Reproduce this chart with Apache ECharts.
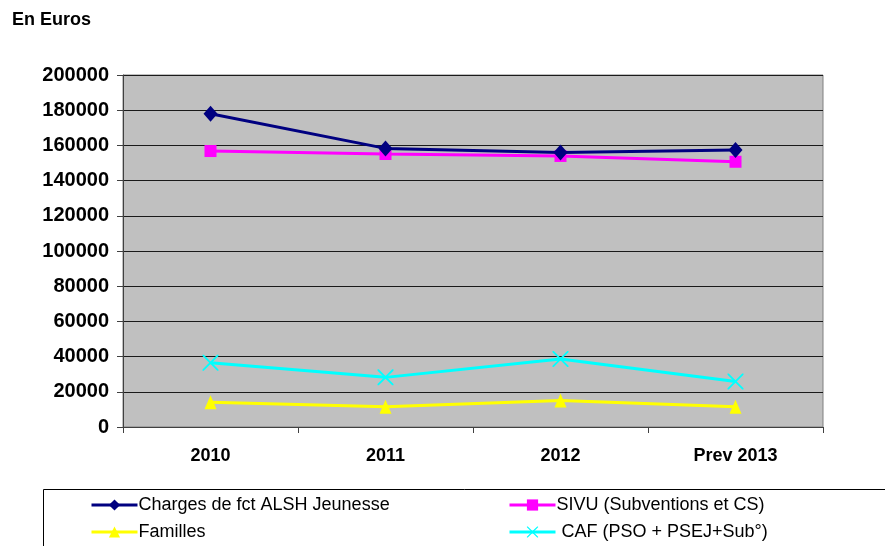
<!DOCTYPE html>
<html>
<head>
<meta charset="utf-8">
<script src="https://cdn.jsdelivr.net/npm/echarts@6/dist/echarts.min.js"></script>
<style>
  html, body { margin: 0; padding: 0; background: #fff; }
  #main { width: 885px; height: 546px; }
</style>
</head>
<body>
<div id="main"></div>
<script>
// données
var categories = ['2010', '2011', '2012', 'Prev 2013'];
var charges = [178000, 158300, 155900, 157400];
var sivu = [156800, 155100, 154000, 150700];
var familles = [14000, 11500, 15000, 11500];
var caf = [36500, 28200, 38600, 25800];
var yTicks = [0, 20000, 40000, 60000, 80000, 100000, 120000, 140000, 160000, 180000, 200000];

var crossPath = 'path://M0,0L1.6,0L10,8.4L18.4,0L20,0L20,1.6L11.6,10L20,18.4L20,20L18.4,20L10,11.6L1.6,20L0,20L0,18.4L8.4,10L0,1.6Z';

var myChart = echarts.init(document.getElementById('main'));

var legendText = { fontFamily: 'Liberation Sans', fontSize: 18, color: '#000', padding: [0, 0, 0, -4] };

var option = {
    backgroundColor: '#ffffff',
    animation: false,
    title: {
        text: 'En Euros',
        left: 7,
        top: 6,
        textStyle: { fontFamily: 'Liberation Sans', fontWeight: 'bold', fontSize: 18, color: '#000' }
    },
    legend: [
        {
            orient: 'vertical',
            left: 90,
            top: 496,
            height: 80,
            padding: 0,
            itemWidth: 46,
            itemHeight: 14,
            itemGap: 9,
            lineStyle: { width: 3 },
            data: ['Charges de fct ALSH Jeunesse', 'Familles'],
            textStyle: legendText
        },
        {
            orient: 'vertical',
            left: 508,
            top: 496,
            height: 80,
            padding: 0,
            itemWidth: 46,
            itemHeight: 14,
            itemGap: 9,
            lineStyle: { width: 3 },
            data: ['SIVU (Subventions et CS)', ' CAF (PSO + PSEJ+Sub°)'],
            textStyle: legendText
        }
    ],
    graphic: [
        {
            type: 'rect',
            shape: { x: 43.5, y: 489.5, width: 860, height: 80 },
            style: { fill: 'none', stroke: '#000', lineWidth: 1 },
            z: -1
        }
    ],
    grid: { left: 123, right: 62, top: 75, bottom: 119, show: true, backgroundColor: '#c0c0c0', borderColor: '#808080', borderWidth: 1 },
    xAxis: {
        type: 'category',
        data: categories,
        boundaryGap: true,
        axisLine: { lineStyle: { color: '#404040', width: 1 } },
        axisTick: { show: true, length: 6, lineStyle: { color: '#404040' } },
        axisLabel: { margin: 20, fontFamily: 'Liberation Sans', fontWeight: 'bold', fontSize: 18, color: '#000' }
    },
    yAxis: {
        type: 'value',
        min: 0,
        max: 200000,
        interval: 20000,
        axisLine: { show: true, lineStyle: { color: '#404040', width: 1 } },
        axisTick: { show: true, length: 6, lineStyle: { color: '#404040' } },
        splitLine: { lineStyle: { color: '#1a1a1a', width: 1 } },
        axisLabel: {
            margin: 14,
            fontFamily: 'Liberation Sans', fontWeight: 'bold', fontSize: 20, color: '#000',
            formatter: function (v) { return yTicks.indexOf(v) >= 0 ? String(v) : ''; }
        }
    },
    series: [
        {
            name: 'Charges de fct ALSH Jeunesse',
            type: 'line',
            data: charges,
            symbol: 'diamond',
            symbolSize: [14, 16],
            lineStyle: { color: '#000080', width: 3 },
            itemStyle: { color: '#000080' },
            z: 4
        },
        {
            name: 'SIVU (Subventions et CS)',
            type: 'line',
            data: sivu,
            symbol: 'rect',
            symbolSize: 12,
            lineStyle: { color: '#ff00ff', width: 3 },
            itemStyle: { color: '#ff00ff' },
            z: 3
        },
        {
            name: 'Familles',
            type: 'line',
            data: familles,
            symbol: 'triangle',
            symbolSize: [12, 14],
            lineStyle: { color: '#ffff00', width: 3 },
            itemStyle: { color: '#ffff00' },
            z: 3
        },
        {
            name: ' CAF (PSO + PSEJ+Sub°)',
            type: 'line',
            data: caf,
            symbol: crossPath,
            symbolSize: 16,
            lineStyle: { color: '#00ffff', width: 3 },
            itemStyle: { color: '#00ffff' },
            z: 3
        }
    ]
};

myChart.setOption(option);
</script>
</body>
</html>
